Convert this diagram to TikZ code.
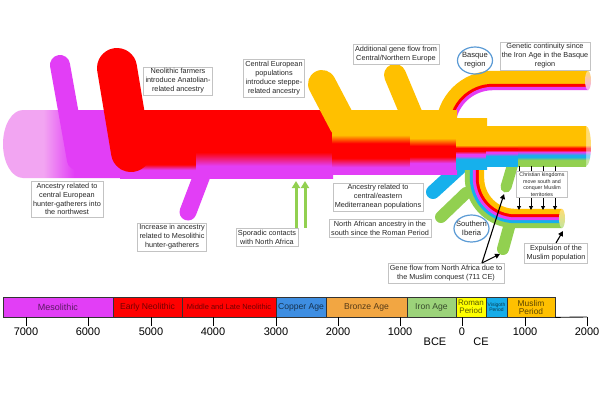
\documentclass[tikz,border=0pt]{standalone}
\usepackage{fontspec}
\setmainfont{Liberation Sans}
\usetikzlibrary{arrows.meta, shapes.geometric}
\definecolor{tubeMagenta}{RGB}{226,62,246}
\definecolor{tubePink}{RGB}{242,165,242}
\definecolor{tubeRed}{RGB}{255,0,0}
\definecolor{tubeAmber}{RGB}{255,192,0}
\definecolor{tubeBlue}{RGB}{22,176,236}
\definecolor{tubeGreen}{RGB}{146,208,80}
\definecolor{boxGrey}{RGB}{195,195,195}
\definecolor{ringBlue}{RGB}{91,155,213}
\definecolor{copperBlue}{RGB}{62,142,226}
\definecolor{bronzeOrange}{RGB}{242,166,66}
\definecolor{ironGreen}{RGB}{156,211,122}
\definecolor{romanYellow}{RGB}{255,255,0}
\definecolor{visiBlue}{RGB}{22,172,232}

% colour bands of the trunk, bottom (25bp) to top (75bp)
\pgfdeclarehorizontalshading{tubeLeft}{100bp}{color(0bp)=(tubePink); color(42bp)=(tubePink); color(55bp)=(tubeMagenta); color(100bp)=(tubeMagenta)}
\pgfdeclareverticalshading{tubeA}{100bp}{color(0bp)=(tubeMagenta); color(31bp)=(tubeMagenta); color(35bp)=(tubeRed); color(100bp)=(tubeRed)}
\pgfdeclareverticalshading{tubeAA}{100bp}{color(0bp)=(tubeMagenta); color(34bp)=(tubeMagenta); color(44bp)=(tubeRed); color(100bp)=(tubeRed)}
\pgfdeclareverticalshading{tubeB}{100bp}{color(0bp)=(tubeMagenta); color(30.5bp)=(tubeMagenta); color(37.5bp)=(tubeRed); color(49bp)=(tubeRed); color(55.5bp)=(tubeAmber); color(100bp)=(tubeAmber)}
\pgfdeclareverticalshading{tubeC}{100bp}{color(0bp)=(tubeMagenta); color(33.5bp)=(tubeMagenta); color(38.5bp)=(tubeRed); color(47bp)=(tubeRed); color(53bp)=(tubeAmber); color(100bp)=(tubeAmber)}
\pgfdeclareverticalshading{tubeD}{100bp}{color(0bp)=(tubeBlue); color(34.8bp)=(tubeBlue); color(37.7bp)=(tubeMagenta); color(39.7bp)=(tubeMagenta); color(42.6bp)=(tubeRed); color(45.6bp)=(tubeRed); color(48.5bp)=(tubeAmber); color(100bp)=(tubeAmber)}
\pgfdeclareverticalshading{tubeE}{100bp}{color(0bp)=(tubeBlue); color(37.5bp)=(tubeBlue); color(41.2bp)=(tubeMagenta); color(42.5bp)=(tubeMagenta); color(45bp)=(tubeRed); color(47.5bp)=(tubeRed); color(51.2bp)=(tubeAmber); color(100bp)=(tubeAmber)}
\pgfdeclareverticalshading{tubeF}{100bp}{color(0bp)=(tubeGreen); color(32.5bp)=(tubeGreen); color(36.2bp)=(tubeBlue); color(38.7bp)=(tubeBlue); color(42.5bp)=(tubeMagenta); color(45bp)=(tubeRed); color(47.5bp)=(tubeRed); color(51.2bp)=(tubeAmber); color(100bp)=(tubeAmber)}

\begin{document}
\begin{tikzpicture}[x=1pt, y=1pt,
    note/.style={draw=boxGrey, fill=white, align=center, inner sep=2pt, font=\fontsize{7.3}{8.9}\selectfont, text=black!85},
    ringtext/.style={align=center, inner sep=0pt, font=\fontsize{7.6}{9}\selectfont, text=black!85},
    branch/.style={line cap=round},
    era/.style={draw=black!80, line width=0.7pt, minimum height=20pt, inner sep=0pt, align=center, font=\fontsize{8.6}{8.6}\selectfont},
    yearlab/.style={anchor=north, inner sep=1pt, font=\fontsize{11}{11}\selectfont},
    flowarrow/.style={-{Triangle[length=5pt, width=5pt]}, line width=1.1pt, black},
    sporarrow/.style={-{Triangle[length=7pt, width=8pt]}, line width=3pt, tubeGreen}]
    \fill[white] (0,0) rectangle (600,-400);
    \useasboundingbox (0,0) rectangle (600,-400);

    % Branches behind the trunk
    \draw[branch, line width=17pt, tubeMagenta] (204,-170) -- (188,-212);
    \draw[branch, line width=14pt, tubeBlue] (468,-160) -- (433,-192);
    \draw[branch, line width=12pt, tubeGreen] (466,-193) -- (441,-217);
    \draw[branch, line width=12pt, tubeGreen] (511,-220) -- (503,-249);
    \draw[branch, line width=11pt, tubeGreen] (514,-160) -- (506,-187);

    % Southern Iberia
    \foreach \r/\w/\c in {47.5/5.4/tubeGreen, 43.5/3.4/tubeBlue, 40.5/3.4/tubeMagenta, 37.5/3.4/tubeRed, 33.5/5.4/tubeAmber}
        \draw[line width=\w pt, \c] (515-\r,-160) -- (515-\r,-178) arc (180:270:\r) -- (562,-178-\r);
    \shade[top color=tubeAmber!55!white, bottom color=tubeGreen!55!white] (562,-218.5) ellipse (3 and 9.5);

    % Basque region
    \foreach \r/\w/\c in {50.5/13.4/tubeAmber, 42.5/3.4/tubeRed, 39.5/3.4/tubeMagenta}
        \draw[line width=\w pt, \c] (493-\r,-140) -- (493-\r,-128) arc (180:90:\r) -- (588,-128+\r);
    \shade[top color=tubeAmber!55!white, bottom color=tubeMagenta!45!white] (588,-80.5) ellipse (3 and 9.5);

    % Trunk, Mesolithic and Neolithic part
    \shade[shading=tubeLeft] (122,-110) -- (23,-110) arc (90:270:20 and 34) -- (122,-178) -- cycle;
    \shade[shading=tubeA] (120,-110) rectangle (197,-178);
    \shade[shading=tubeAA] (196,-110) rectangle (333,-178);
    \draw[branch, line width=20pt, tubeMagenta] (60,-65) -- (77,-160);
    \draw[branch, line width=40pt, tubeRed] (117,-68) -- (131,-152);

    % Steppe and northern gene flow
    \draw[branch, line width=28pt, tubeAmber] (322,-84) -- (343,-124);
    \draw[branch, line width=22pt, tubeAmber] (395,-75) -- (413,-118);

    % Trunk, Bronze Age onwards
    \shade[shading=tubeB] (332,-110) rectangle (411,-174);
    \shade[shading=tubeC] (410,-110) rectangle (457,-174);
    \shade[shading=tubeD] (456,-118) rectangle (487,-169);
    \shade[shading=tubeE] (486,-126) rectangle (519,-166);
    \shade[shading=tubeF] (518,-126) rectangle (586,-166);
    \shade[shading=tubeF, opacity=.55] (586,-146) ellipse (5 and 20);

    % Christian kingdoms moving south
    \foreach \x [count=\i] in {519,531,543,555} {
        \coordinate (kingA\i) at (\x,-166);
        \coordinate (kingB\i) at (\x,-210);
        \draw[-{Triangle[length=4pt, width=4pt]}, line width=0.9pt] (kingA\i) -- (kingB\i);
    }
    \node[note, font=\fontsize{5.3}{6.4}\selectfont, inner sep=1.5pt, minimum width=51pt] (kingNote) at (542,-184.5) {Christian kingdoms\\move south and\\conquer Muslim\\territories};

    % Regions
    \node[ringtext] (basque) at (475,-60.5) {Basque\\region};
    \draw[ringBlue, line width=1.2pt] (basque.center) ellipse (17.5 and 13.5);
    \node[ringtext] (sIberia) at (471.5,-228.5) {Southern\\Iberia};
    \draw[ringBlue, line width=1.2pt] (sIberia.center) ellipse (17.5 and 13.5);

    % Notes
    \node[note] (neoNote) at (178,-81) {Neolithic farmers\\introduce Anatolian-\\related ancestry};
    \node[note] (steppeNote) at (274,-78) {Central European\\populations\\introduce steppe-\\related ancestry};
    \node[note] (northNote) at (396,-54) {Additional gene flow from\\Central/Northern Europe};
    \node[note] (basqueNote) at (545,-56) {Genetic continuity since\\the Iron Age in the Basque\\region};
    \node[note] (hunterNote) at (67,-199) {Ancestry related to\\central European\\hunter-gatherers into\\the northwest};
    \node[note] (mesoNote) at (172,-237) {Increase in ancestry\\related to Mesolithic\\hunter-gatherers};
    \node[note] (spor) at (267,-237) {Sporadic contacts\\with North Africa};
    \node[note] (medNote) at (378,-197) {Ancestry related to\\central/eastern\\Mediterranean populations};
    \node[note] (romanNote) at (380,-228) {North African ancestry in the\\south since the Roman Period};
    \node[note] (gfNote) at (446,-273) {Gene flow from North Africa due to\\the Muslim conquest (711 CE)};
    \node[note] (expul) at (556,-253) {Expulsion of the\\Muslim population};

    % Arrows
    \coordinate (spA) at (296,-181);
    \coordinate (spB) at (305,-181);
    \draw[sporarrow] (spA |- spor.north) -- (spA);
    \draw[sporarrow] (spB |- spor.north) -- (spB);
    \coordinate (gfStart) at (482,-263);
    \coordinate (gfTop) at (504,-194);
    \coordinate (gfLow) at (500,-254);
    \draw[flowarrow] (gfStart) -- (gfTop);
    \draw[flowarrow] (gfStart) -- (gfLow);
    \coordinate (expTip) at (563,-231);
    \draw[flowarrow] (expul.north) -- (expTip);

    % Timeline
    \node[era, fill=tubeMagenta, minimum width=110pt, text=tubeMagenta!40!black, font=\fontsize{9}{9}\selectfont] (meso) at (58,-307) {Mesolithic};
    \node[era, fill=tubeRed, minimum width=69pt, text=tubeRed!45!black] (earlyNeo) at (147.5,-307) {Early Neolithic};
    \node[era, fill=tubeRed, minimum width=94pt, text=tubeRed!45!black, font=\fontsize{7.5}{7.5}\selectfont] (lateNeo) at (229,-307) {Middle and Late Neolithic};
    \node[era, fill=copperBlue, minimum width=50pt, text=copperBlue!35!black] (copper) at (301,-307) {Copper Age};
    \node[era, fill=bronzeOrange, minimum width=81pt, text=bronzeOrange!35!black] (bronze) at (366.5,-307) {Bronze Age};
    \node[era, fill=ironGreen, minimum width=49pt, text=ironGreen!35!black] (iron) at (431.5,-307) {Iron Age};
    \node[era, fill=romanYellow, minimum width=30pt, text=romanYellow!35!black, font=\fontsize{8}{7.5}\selectfont] (roman) at (471,-307) {Roman\\Period};
    \node[era, fill=visiBlue, minimum width=21pt, text=visiBlue!35!black, font=\fontsize{5}{5.5}\selectfont] (visi) at (496.5,-307) {Visigoth\\Period};
    \node[era, fill=tubeAmber, minimum width=48pt, text=tubeAmber!35!black, font=\fontsize{8.4}{8}\selectfont] (muslim) at (531,-307) {Muslim\\Period};
    \draw[line width=0.9pt] (muslim.south east) -- (587,-317);
    \foreach \x/\l [count=\i] in {26/7000, 88/6000, 151/5000, 213/4000, 276/3000, 338/2000, 400/1000, 462/0, 525/1000, 587/2000} {
        \draw[line width=1pt] (\x,-317) -- (\x,-326) node[yearlab] (tick\i) {\l};
    }
    \node[font=\fontsize{11}{11}\selectfont] (bce) at (435,-342) {BCE};
    \node[font=\fontsize{11}{11}\selectfont] (ce) at (481,-342) {CE};
\end{tikzpicture}
\end{document}
